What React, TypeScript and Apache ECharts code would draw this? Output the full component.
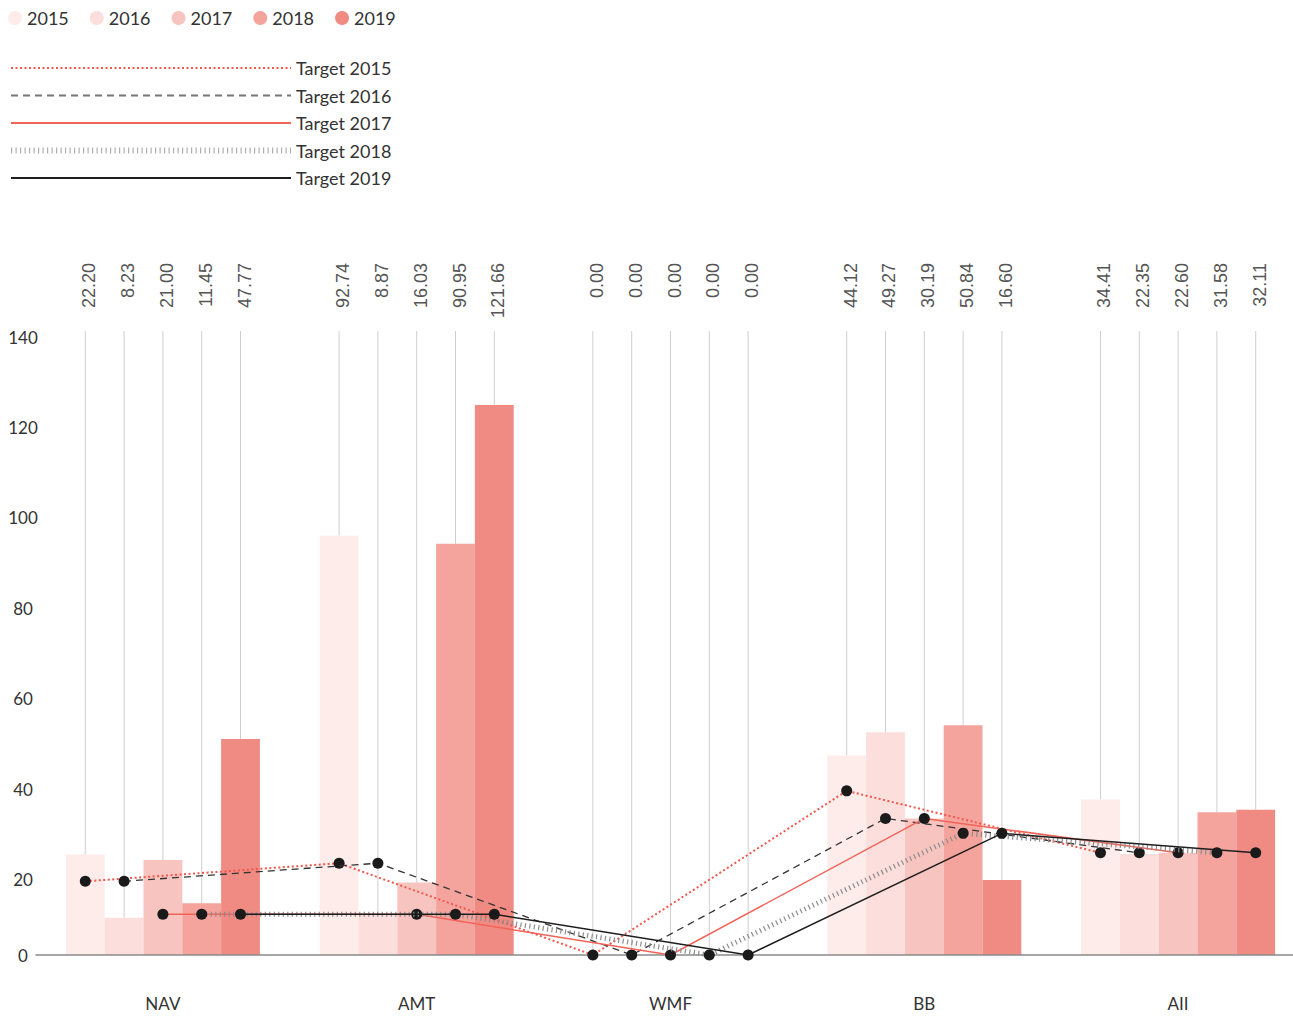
import React, { useEffect, useRef } from "react";
import * as echarts from "echarts";

const categories = ["NAV", "AMT", "WMF", "BB", "AII"];
const years = ["2015", "2016", "2017", "2018", "2019"];

const actual2015 = [22.2, 92.74, 0, 44.12, 34.41];
const actual2016 = [8.23, 8.87, 0, 49.27, 22.35];
const actual2017 = [21.0, 16.03, 0, 30.19, 22.6];
const actual2018 = [11.45, 90.95, 0, 50.84, 31.58];
const actual2019 = [47.77, 121.66, 0, 16.6, 32.11];

const target2015 = [16.3, 20.3, 0, 36.3, 22.6];
const target2016 = [16.3, 20.3, 0, 30.2, 22.6];
const target2017 = [9.0, 9.0, 0, 30.2, 22.6];
const target2018 = [9.0, 9.0, 0, 26.9, 22.6];
const target2019 = [9.0, 9.0, 0, 26.9, 22.6];

const yTicks = [0, 20, 40, 60, 80, 100, 120, 140];

const actuals = [actual2015, actual2016, actual2017, actual2018, actual2019];
const targets = [target2015, target2016, target2017, target2018, target2019];
const targetNames = years.map((y) => "Target " + y);

const barColors = ["#fdecea", "#fcdedc", "#f8c4bf", "#f4a39d", "#f08b83"];
const lineStyles: any[] = [
  { color: "#f0574d", width: 2, type: [2, 2.5] },
  { color: "#333333", width: 1.3, type: [7, 5] },
  { color: "#f0645a", width: 1.5, type: "solid" },
  { color: "#8c8c8c", width: 5, type: [1.2, 3.3] },
  { color: "#1e1e1e", width: 1.5, type: "solid" },
];
const legendLineStyles: any[] = [
  { color: "#f0574d", width: 2, type: [2, 2.5] },
  { color: "#777777", width: 2, type: [7, 5] },
  { color: "#f0645a", width: 2, type: "solid" },
  { color: "#b0b0b0", width: 6, type: [1.2, 3.3] },
  { color: "#1e1e1e", width: 2, type: "solid" },
];

const BAR_SPAN = 0.7645; // share of a category band taken by the 5 bars
const LEADER_TOP = 138;
const FONT = "Lato, 'Noto Sans', sans-serif";

function offsetX(cat: number, yr: number) {
  return cat + (yr - 2) * (BAR_SPAN / 5);
}

export default function App() {
  const ref = useRef<HTMLDivElement>(null);
  useEffect(() => {
    if (!ref.current) return;
    const chart = echarts.init(ref.current, undefined, { renderer: "svg" });

    const leaderData: any[] = [];
    actuals.forEach((arr, yr) =>
      arr.forEach((v, cat) => leaderData.push([offsetX(cat, yr), v]))
    );

    const series: any[] = [];
    series.push({
      type: "custom",
      name: "leaders",
      xAxisIndex: 1,
      yAxisIndex: 0,
      z: 1,
      silent: true,
      data: leaderData,
      renderItem: (params: any, api: any) => {
        const x = api.value(0);
        const v = api.value(1);
        const pBar = api.coord([x, v]);
        const pTop = api.coord([x, LEADER_TOP]);
        return {
          type: "group",
          children: [
            {
              type: "line",
              shape: { x1: pTop[0], y1: pTop[1], x2: pBar[0], y2: pBar[1] },
              style: { stroke: "#cfcfcf", lineWidth: 1 },
            },
            {
              type: "text",
              x: pTop[0] + 4,
              y: pTop[1] - 68,
              rotation: Math.PI / 2,
              style: {
                text: Number(v).toFixed(2),
                align: "right",
                verticalAlign: "middle",
                fontFamily: "'Liberation Sans', Arial, sans-serif",
                fontSize: 18,
                fill: "#555555",
              },
            },
          ],
        };
      },
    });

    actuals.forEach((arr, yr) => {
      series.push({
        type: "bar",
        name: years[yr],
        xAxisIndex: 0,
        yAxisIndex: 0,
        data: arr,
        barGap: "0%",
        barCategoryGap: ((1 - BAR_SPAN) * 100).toFixed(2) + "%",
        itemStyle: { color: barColors[yr] },
        z: 2,
      });
    });

    targets.forEach((arr, yr) => {
      series.push({
        type: "line",
        name: targetNames[yr],
        xAxisIndex: 1,
        yAxisIndex: 0,
        data: arr.map((v, cat) => [offsetX(cat, yr), v]),
        symbol: "circle",
        symbolSize: 11,
        itemStyle: { color: "#1a1a1a" },
        lineStyle: lineStyles[yr],
        z: 5 + yr,
      });
    });

    chart.setOption({
      animation: false,
      backgroundColor: "#ffffff",
      legend: [
        {
          data: years,
          left: 8,
          top: 9,
          padding: 0,
          icon: "circle",
          itemWidth: 14,
          itemHeight: 14,
          itemGap: 21,
          textStyle: { fontFamily: FONT, fontSize: 18, color: "#333" },
          selectedMode: false,
        },
        {
          data: targetNames.map((n, i) => ({ name: n, lineStyle: legendLineStyles[i] })),
          orient: "vertical",
          left: 8,
          top: 59,
          padding: 0,
          itemWidth: 280,
          itemHeight: 14,
          itemGap: 9.5,
          itemStyle: { opacity: 0 },
          textStyle: { fontFamily: FONT, fontSize: 18, color: "#333" },
          selectedMode: false,
        },
      ],
      grid: { left: 36, width: 1269, top: 322, bottom: 61, containLabel: false },
      xAxis: [
        {
          type: "category",
          data: categories,
          axisLine: { show: true, lineStyle: { color: "#8a8a8a", width: 1.5 } },
          axisTick: { show: false },
          axisLabel: {
            margin: 40,
            fontFamily: FONT,
            fontSize: 17,
            color: "#333",
          },
          z: 3,
        },
        { type: "value", min: -0.5, max: 4.5, show: false },
      ],
      yAxis: [
        {
          type: "value",
          min: yTicks[0],
          max: yTicks[yTicks.length - 1],
          interval: 20,
          splitLine: { show: false },
          axisLine: { show: false },
          axisTick: { show: false },
          axisLabel: {
            formatter: (v: number) => (v === 0 ? "" : String(v)),
            align: "center",
            verticalAlign: "top",
            lineHeight: 30,
            margin: 13,
            fontFamily: FONT,
            fontSize: 17,
            color: "#333",
          },
        },
        {
          type: "value",
          position: "left",
          min: yTicks[0],
          max: yTicks[yTicks.length - 1],
          interval: 20,
          splitLine: { show: false },
          axisLine: { show: false },
          axisTick: { show: false },
          axisLabel: {
            formatter: (v: number) => (v === 0 ? "0" : ""),
            align: "center",
            margin: 13,
            fontFamily: FONT,
            fontSize: 17,
            color: "#333",
          },
        },
      ],
      series,
    });
    return () => chart.dispose();
  }, []);
  return (
    <div
      style={{
        position: "absolute",
        left: 0,
        top: 0,
        width: 1293,
        height: 1016,
        overflow: "hidden",
      }}
    >
      <div ref={ref} style={{ width: 1310, height: 1016 }} />
    </div>
  );
}
